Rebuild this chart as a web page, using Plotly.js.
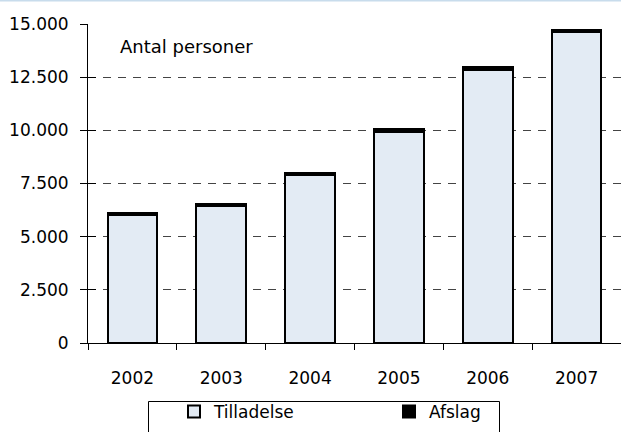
<!DOCTYPE html>
<html>
<head>
<meta charset="utf-8">
<script src="https://cdn.plot.ly/plotly-3.0.1.min.js"></script>
<style>html,body{margin:0;padding:0;background:#fff;}#chart{width:621px;height:432px;}</style>
</head>
<body>
<div id="chart"></div>
<script>
const years = ['2002', '2003', '2004', '2005', '2006', '2007'];
const tilladelse = [6020, 6440, 7900, 9930, 12830, 14620];
const afslag = [90, 110, 110, 110, 150, 90];
const yTicks = [0, 2500, 5000, 7500, 10000, 12500, 15000];

const traces = [
  {type: 'bar', name: 'Tilladelse', x: years, y: tilladelse,
   marker: {color: '#e3ebf4', line: {color: '#000', width: 2}}, hoverinfo: 'skip'},
  {type: 'bar', name: 'Afslag', x: years, y: afslag,
   marker: {color: '#000', line: {color: '#000', width: 2}}, hoverinfo: 'skip'},
  {type: 'scatter', x: [], y: [], yaxis: 'y2', showlegend: false, hoverinfo: 'skip'}
];

const layout = {
  width: 621, height: 432,
  margin: {l: 88, r: 0, t: 24, b: 89},
  paper_bgcolor: '#fff', plot_bgcolor: '#fff',
  barmode: 'stack', bargap: 0.44,
  separators: ',.',
  font: {family: 'DejaVu Sans', size: 17, color: '#000'},
  showlegend: true,
  xaxis: {type: 'category', showline: true, linecolor: '#000', linewidth: 1,
          ticks: 'outside', tickson: 'boundaries', ticklen: 6, tickcolor: '#000', tickwidth: 1,
          showgrid: false, zeroline: false, ticklabelstandoff: 20, fixedrange: true},
  yaxis: {range: [0, 15000], tickvals: yTicks, tickformat: ',d', showline: true, linecolor: '#000', linewidth: 1,
          ticks: 'outside', ticklen: 7, tickcolor: '#000', tickwidth: 1,
          showgrid: true, gridcolor: '#444', gridwidth: 1, griddash: '8px,7px', zeroline: false,
          ticklabelstandoff: 8, fixedrange: true},
  yaxis2: {overlaying: 'y', range: [0, 15000], tickvals: yTicks, side: 'left',
           ticks: 'inside', ticklen: 8, tickcolor: '#000', tickwidth: 1,
           showticklabels: false, showgrid: false, zeroline: false, showline: false, fixedrange: true},
  legend: {orientation: 'h', xref: 'container', yref: 'container', x: 174 / 621, xanchor: 'left',
           y: 1 - 394 / 432, yanchor: 'top', borderwidth: 0, bgcolor: 'rgba(0,0,0,0)',
           traceorder: 'normal', entrywidth: 170, font: {size: 17}},
  annotations: [{text: 'Antal personer', xref: 'paper', yref: 'paper', x: 30 / 533, y: (343 - 46) / 319,
                 xanchor: 'left', yanchor: 'middle', showarrow: false, font: {size: 18}}],
  shapes: [
    {type: 'line', xref: 'paper', yref: 'paper', x0: -88 / 533, x1: 1,
     y0: (343 - 0.5) / 319, y1: (343 - 0.5) / 319, line: {color: '#c8dcec', width: 2}},
    {type: 'rect', xref: 'paper', yref: 'paper', x0: (148.5 - 88) / 533, x1: (499.5 - 88) / 533,
     y0: (343 - 401.5) / 319, y1: (343 - 445) / 319, line: {color: '#000', width: 1}, fillcolor: 'rgba(0,0,0,0)'}
  ]
};

Plotly.newPlot('chart', traces, layout, {displayModeBar: false, staticPlot: true});
</script>
</body>
</html>
